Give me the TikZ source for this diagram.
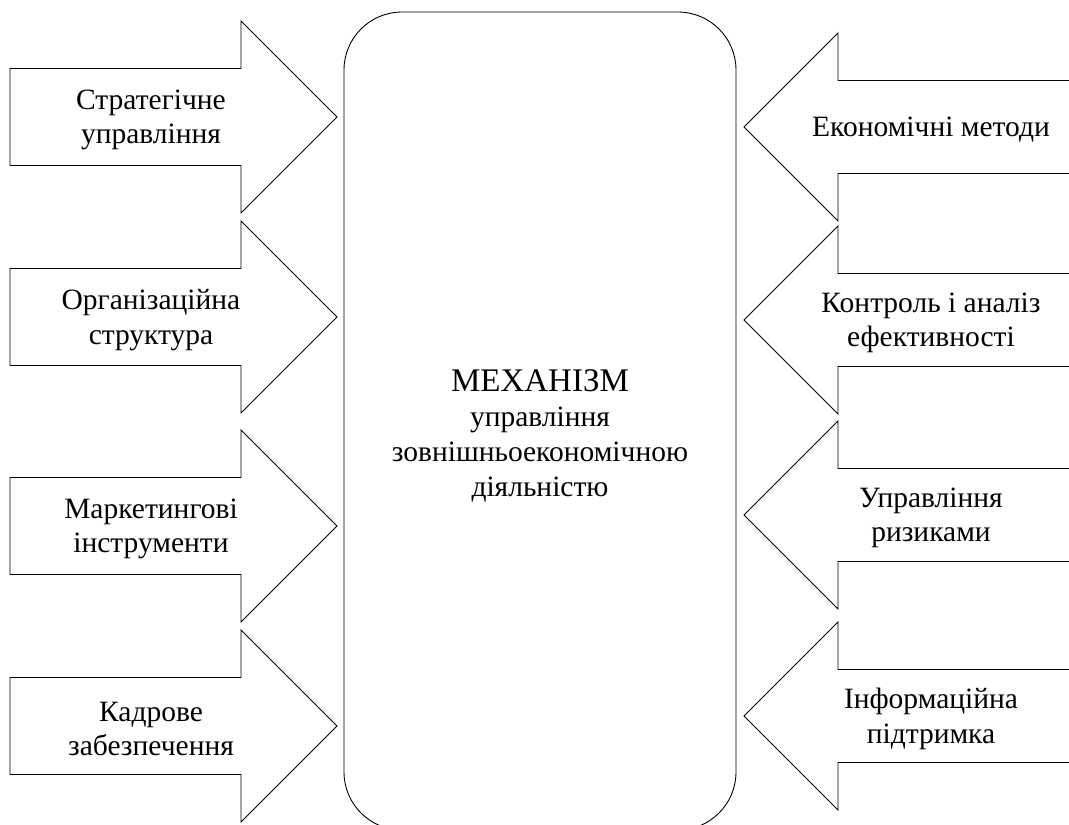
\documentclass[tikz,border=0pt]{standalone}
\usepackage{fontspec}
\setmainfont{Liberation Serif}
\begin{document}
\begin{tikzpicture}[x=1pt,y=-1pt,line width=0.9pt,line join=miter,
  lbltext/.style={font=\fontsize{29.5}{34.5}\selectfont,align=center,inner sep=0pt},
  coretext/.style={font=\fontsize{29.5}{35}\selectfont,align=center,inner sep=0pt}]
\useasboundingbox (0,0) rectangle (1069,825);
\begin{scope}
\clip (0,0) rectangle (1069,825);
% central rounded block
\draw[rounded corners=58pt] (344,12) rectangle (736,830);
\node[coretext] (core) at (540,436)
  {{\fontsize{33}{35}\selectfont МЕХАНІЗМ}\\управління\\зовнішньоекономічною\\діяльністю};
% inbound arrows on the left
\foreach \ty/\nm/\txt in {117/strat/{Стратегічне\\управління},
                          317/org/{Організаційна\\структура},
                          526/mark/{Маркетингові\\інструменти},
                          726/kadr/{Кадрове\\забезпечення}}{
  \draw (10,\ty-48.5) -- (241,\ty-48.5) -- (241,\ty-96) -- (337,\ty)
     -- (241,\ty+96) -- (241,\ty+48.5) -- (10,\ty+48.5) -- cycle;
  \node[lbltext] (\nm) at (151,\ty+3) {\txt};
}
% inbound arrows on the right, running off the edge
\foreach \ty/\nm/\txt in {127/econ/{Економічні методи},
                          320/ctrl/{Контроль і аналіз\\ефективності},
                          515/risk/{Управління\\ризиками},
                          716/info/{Інформаційна\\підтримка}}{
  \draw (1080,\ty-46.5) -- (838,\ty-46.5) -- (838,\ty-94) -- (744,\ty)
     -- (838,\ty+94) -- (838,\ty+46.5) -- (1080,\ty+46.5);
  \node[lbltext] (\nm) at (931,\ty+3) {\txt};
}
\end{scope}
\end{tikzpicture}
\end{document}
